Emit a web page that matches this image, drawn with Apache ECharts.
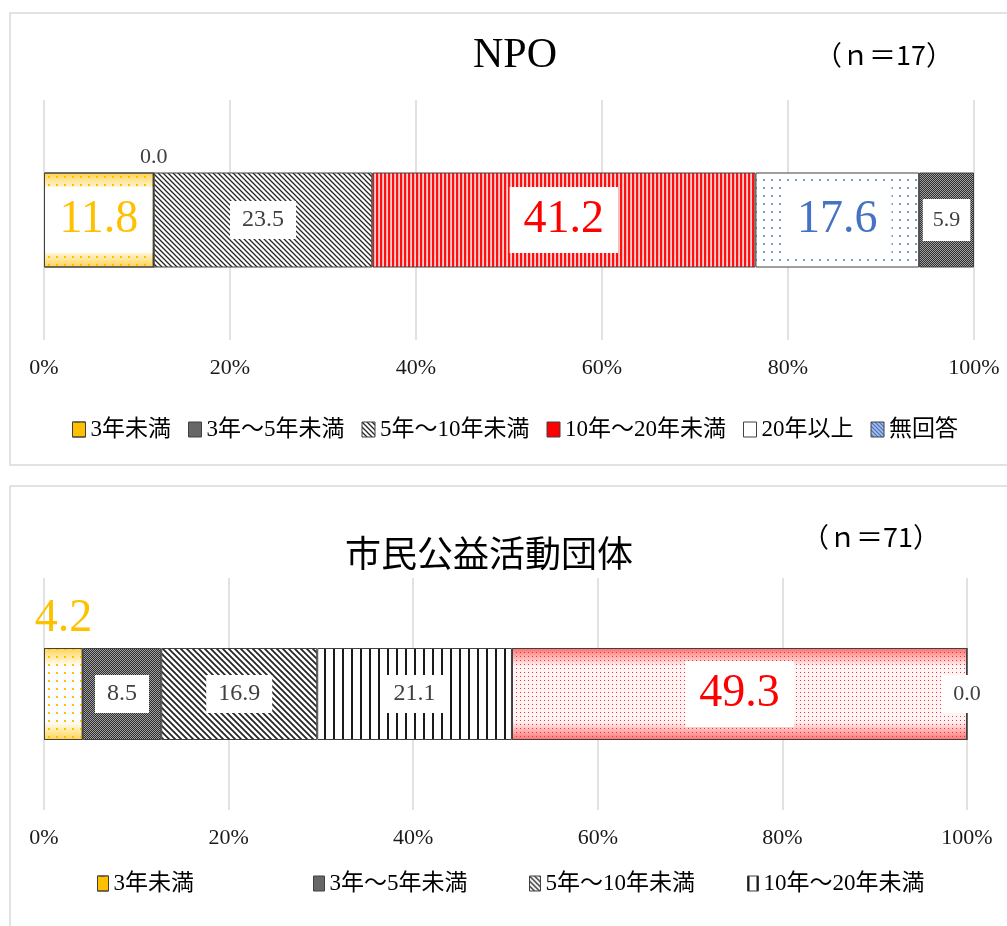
<!DOCTYPE html>
<html>
<head>
<meta charset="utf-8">
<title>活動年数</title>
<script src="https://cdn.jsdelivr.net/npm/echarts@6/dist/echarts.min.js"></script>
<style>
  html, body { margin: 0; padding: 0; background: #fff; }
  #chart { width: 1007px; height: 926px; }
</style>
</head>
<body>
<div id="chart"></div>
<script>
// 区分
const categories = ['3年未満', '3年～5年未満', '5年～10年未満', '10年～20年未満', '20年以上', '無回答'];
// NPO (n=17)
const npoValues = [11.8, 0.0, 23.5, 41.2, 17.6, 5.9];
// 市民公益活動団体 (n=71)
const civicValues = [4.2, 8.5, 16.9, 21.1, 49.3, 0.0];
const npoTitle = 'NPO';
const npoCount = '（ｎ＝17）';
const civicTitle = '市民公益活動団体';
const civicCount = '（ｎ＝71）';
// 下のグラフの凡例は4つまでしか見えていない（等間隔で並ぶ）
const civicLegendLeft = [92, 308, 524, 742];

const NUM_FONT = '"Liberation Serif", "Noto Sans CJK JP", serif';
const JP_FONT = '"Noto Sans CJK JP", sans-serif';
const GRAY = '#404040';

// small repeating canvas tiles for the hatch fills
function tile(w, h, draw, bg) {
  const c = document.createElement('canvas');
  c.width = w;
  c.height = h;
  const ctx = c.getContext('2d');
  ctx.fillStyle = bg || '#fff';
  ctx.fillRect(0, 0, w, h);
  draw(ctx);
  return { image: c, repeat: 'repeat' };
}

function diag(size, width, color, bg) {
  return tile(size, size, ctx => {
    ctx.strokeStyle = color;
    ctx.lineWidth = width;
    ctx.beginPath();
    ctx.moveTo(-1, -1); ctx.lineTo(size + 1, size + 1);
    ctx.moveTo(-1, size - 1); ctx.lineTo(1, size + 1);
    ctx.moveTo(size - 1, -1); ctx.lineTo(size + 1, 1);
    ctx.stroke();
  }, bg);
}

const diagThin = diag(5, 1.3, '#262626');
const diagThick = diag(6, 1.8, '#262626');
const blueDiag = diag(4, 1.2, '#4472c4', '#a9bfe6');

const checker = tile(2, 2, ctx => {
  ctx.fillStyle = '#2e2e2e';
  ctx.fillRect(0, 0, 2, 2);
  ctx.fillStyle = '#a0a0a0';
  ctx.fillRect(0, 0, 1, 1);
  ctx.fillRect(1, 1, 1, 1);
});

const redStripes = tile(4, 4, ctx => {
  ctx.fillStyle = '#ff1010';
  ctx.fillRect(0, 0, 2.5, 4);
  ctx.fillStyle = '#ffd0d0';
  ctx.fillRect(2.5, 0, 1.5, 4);
});

const blackStripes = tile(9, 4, ctx => {
  ctx.fillStyle = '#1a1a1a';
  ctx.fillRect(0, 0, 2, 4);
});

const blueDots = tile(8, 8, ctx => {
  ctx.fillStyle = '#4f7acb';
  ctx.beginPath();
  ctx.arc(4, 4, 1, 0, Math.PI * 2);
  ctx.fill();
});

// gradient toward the top/bottom edges, dots drawn as decal on top
function edgeGradient(edge, mid) {
  return {
    type: 'linear', x: 0, y: 0, x2: 0, y2: 1,
    colorStops: [
      { offset: 0, color: edge },
      { offset: 0.2, color: mid },
      { offset: 0.8, color: mid },
      { offset: 1, color: edge },
    ],
  };
}

const yellowFill = {
  color: edgeGradient('#ffd34d', '#ffffff'),
  decal: { symbol: 'rect', symbolSize: 1, color: '#ffc000', dashArrayX: [2, 6], dashArrayY: [2, 6] },
};
const redDotFill = {
  color: edgeGradient('#ff7070', '#fff4f4'),
  decal: { symbol: 'rect', symbolSize: 1, color: '#ff3030', dashArrayX: [1, 3], dashArrayY: [1, 3] },
};

const npoFills = [
  yellowFill,
  { color: checker },
  { color: diagThin },
  { color: redStripes },
  { color: blueDots },
  { color: checker },
];
const civicFills = [
  yellowFill,
  { color: checker },
  { color: diagThick },
  { color: blackStripes },
  redDotFill,
  { color: checker },
];

function smallLabel() {
  return { position: 'inside', fontSize: 24, color: GRAY, backgroundColor: '#fff', padding: [7, 12] };
}
function bigLabel(color) {
  return { position: 'inside', fontSize: 46, lineHeight: 50, color: color, backgroundColor: '#fff', padding: [8, 14] };
}

const npoLabels = [
  bigLabel('#ffc000'),
  { position: 'top', distance: 4, fontSize: 22, color: GRAY },
  smallLabel(),
  bigLabel('#ff0000'),
  bigLabel('#4472c4'),
  Object.assign(smallLabel(), { fontSize: 22, padding: [10, 10] }),
];
const civicLabels = [
  { position: 'top', distance: 6, fontSize: 46, color: '#ffc000' },
  smallLabel(),
  smallLabel(),
  smallLabel(),
  bigLabel('#ff0000'),
  Object.assign(smallLabel(), { fontSize: 22, padding: [8, 12] }),
];

function makeSeries(values, idx, fills, labels, barWidth) {
  return values.map((v, i) => ({
    name: categories[i],
    type: 'bar',
    stack: 'total' + idx,
    xAxisIndex: idx,
    yAxisIndex: idx,
    barWidth: barWidth,
    data: [v],
    itemStyle: Object.assign({ borderColor: GRAY, borderWidth: 1 }, fills[i]),
    label: Object.assign({
      show: true,
      fontFamily: NUM_FONT,
      formatter: p => Number(p.value).toFixed(1),
    }, labels[i]),
    emphasis: { disabled: true },
  }));
}

const legendIcons = [
  { color: '#ffc000' },
  { color: checker },
  { color: diagThin },
  { color: '#ff0000' },
  { color: '#ffffff' },
  { color: blueDiag },
];
const civicLegendIcons = [
  { color: '#ffc000' },
  { color: checker },
  { color: diagThin },
  { color: blackStripes },
];

const legendText = { fontSize: 23, fontFamily: NUM_FONT, color: '#000' };

function legendBase(left, top, gap, iconW) {
  return {
    left: left,
    top: top,
    icon: 'rect',
    itemWidth: iconW,
    itemHeight: 15,
    itemGap: gap,
    itemStyle: { borderColor: GRAY, borderWidth: 1 },
    textStyle: legendText,
    selectedMode: false,
  };
}

const legends = [
  Object.assign(legendBase(67, 413, 17, 13), {
    data: categories.map((c, i) => ({ name: c, itemStyle: legendIcons[i] })),
  }),
].concat(civicLegendLeft.map((x, i) => Object.assign(legendBase(x, 867, 10, 11), {
  data: [{ name: categories[i], itemStyle: civicLegendIcons[i] }],
})));

function valueAxis(idx) {
  return {
    type: 'value',
    gridIndex: idx,
    min: 0,
    max: 100,
    interval: 20,
    axisLine: { show: false },
    axisTick: { show: false },
    axisLabel: { formatter: '{value}%', fontFamily: NUM_FONT, fontSize: 22, color: '#1a1a1a', margin: 17 },
    splitLine: { lineStyle: { color: '#d9d9d9', width: 1.5 } },
  };
}

function catAxis(idx, name) {
  return {
    type: 'category',
    gridIndex: idx,
    data: [name],
    show: false,
  };
}

const titleStyle = (font, size) => ({ fontFamily: font, fontSize: size, fontWeight: 'normal', color: '#000' });

const chart = echarts.init(document.getElementById('chart'));
const option = {
  animation: false,
  backgroundColor: '#fff',
  graphic: [
    { type: 'rect', silent: true, z: -1, shape: { x: 10, y: 13, width: 1010, height: 452 },
      style: { fill: 'none', stroke: '#d9d9d9', lineWidth: 1.5 } },
    { type: 'rect', silent: true, z: -1, shape: { x: 10, y: 486, width: 1010, height: 460 },
      style: { fill: 'none', stroke: '#d9d9d9', lineWidth: 1.5 } },
  ],
  title: [
    { text: npoTitle, left: 468, top: 30, textStyle: titleStyle('"Liberation Serif", serif', 42) },
    { text: npoCount, left: 810, top: 36, textStyle: titleStyle(JP_FONT, 27) },
    { text: civicTitle, left: 340, top: 530, textStyle: titleStyle(JP_FONT, 36) },
    { text: civicCount, left: 797, top: 518, textStyle: titleStyle(JP_FONT, 27) },
  ],
  legend: legends,
  grid: [
    { left: 44, right: 33, top: 100, height: 240, outerBoundsMode: 'none' },
    { left: 44, right: 40, top: 578, height: 232, outerBoundsMode: 'none' },
  ],
  xAxis: [valueAxis(0), valueAxis(1)],
  yAxis: [catAxis(0, npoTitle), catAxis(1, civicTitle)],
  series: makeSeries(npoValues, 0, npoFills, npoLabels, 95)
    .concat(makeSeries(civicValues, 1, civicFills, civicLabels, 92)),
};
chart.setOption(option);
</script>
</body>
</html>
